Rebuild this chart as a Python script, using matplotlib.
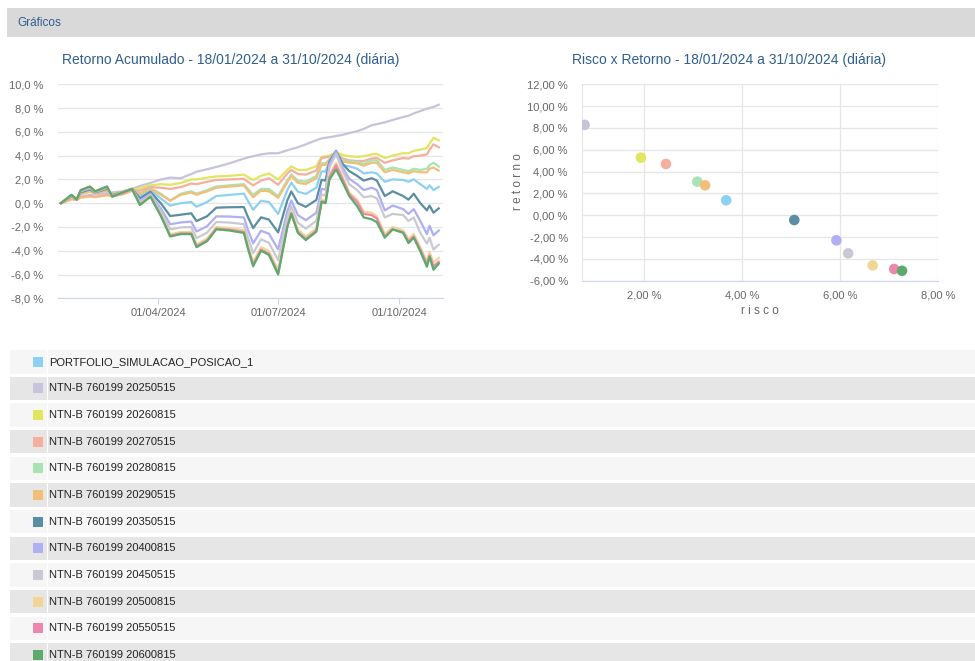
import numpy as np
import pandas as pd
import matplotlib
matplotlib.use('Agg')
import matplotlib.pyplot as plt
import matplotlib.dates as mdates
from matplotlib.patches import Rectangle

plt.rcParams['font.family'] = ['Liberation Sans', 'DejaVu Sans']

# dates (days where the curves turn)
dates = ['2024-01-18', '2024-01-26', '2024-01-30', '2024-02-02', '2024-02-09', '2024-02-13',
         '2024-02-22', '2024-02-26', '2024-03-05', '2024-03-12', '2024-03-18', '2024-03-26',
         '2024-04-03', '2024-04-10', '2024-04-18', '2024-04-26', '2024-04-30', '2024-05-08',
         '2024-05-15', '2024-05-25', '2024-06-05', '2024-06-08', '2024-06-12', '2024-06-18',
         '2024-06-24', '2024-07-01', '2024-07-08', '2024-07-11', '2024-07-16', '2024-07-22',
         '2024-07-30', '2024-08-03', '2024-08-06', '2024-08-09', '2024-08-14', '2024-08-19',
         '2024-08-24', '2024-08-30', '2024-09-04', '2024-09-10', '2024-09-14', '2024-09-20',
         '2024-09-26', '2024-10-04', '2024-10-08', '2024-10-12', '2024-10-17', '2024-10-22',
         '2024-10-24', '2024-10-27', '2024-10-31']

# cumulative return (%) per series
portfolio = [0, 0.56, 0.37, 0.83, 1.06, 0.88, 1.13, 0.72, 0.95, 1.2, 0.62, 1.1, 0.39, -0.2, 0.0, 0.1, -0.3,
             0.1, 0.6, 0.7, 0.8, 0.2, -0.55, 0.2, 0.1, -0.9, 1.11, 1.73, 0.97, 0.78, 1.31, 2.68, 2.65, 3.6,
             4.4, 3.2, 3.1, 2.9, 2.5, 2.6, 2.5, 1.8, 2.0, 1.95, 1.8, 2.0, 1.6, 1.2, 1.5, 1.1, 1.37]
ntnb_2025 = [0, 0.4, 0.45, 0.55, 0.7, 0.75, 0.85, 0.9, 1.0, 1.2, 1.45, 1.7, 2.0, 2.15, 2.1, 2.45, 2.65,
             2.85, 3.05, 3.35, 3.75, 3.85, 3.95, 4.1, 4.2, 4.2, 4.45, 4.55, 4.7, 4.95, 5.3, 5.45, 5.5, 5.55,
             5.65, 5.75, 5.9, 6.05, 6.25, 6.55, 6.65, 6.8, 7.0, 7.25, 7.35, 7.55, 7.75, 7.95, 8.0, 8.1, 8.28]
ntnb_2026 = [0, 0.3, 0.3, 0.45, 0.55, 0.5, 0.65, 0.6, 0.75, 1.05, 1.25, 1.5, 1.6, 1.55, 1.7, 2.0, 2.0,
             2.15, 2.25, 2.3, 2.4, 2.2, 1.95, 2.3, 2.5, 2.0, 2.8, 3.1, 2.8, 2.8, 3.1, 3.9, 3.95, 4.0,
             4.3, 4.05, 3.95, 3.9, 3.95, 4.1, 4.15, 3.8, 4.0, 4.2, 4.2, 4.4, 4.5, 4.65, 5.0, 5.5, 5.28]
ntnb_2027 = [0, 0.35, 0.3, 0.5, 0.6, 0.55, 0.7, 0.6, 0.75, 1.05, 1.05, 1.35, 1.3, 1.2, 1.35, 1.65, 1.6,
             1.8, 1.95, 2.0, 2.05, 1.8, 1.5, 1.9, 2.1, 1.55, 2.5, 2.8, 2.45, 2.4, 2.75, 3.8, 3.85, 3.9,
             4.2, 3.75, 3.6, 3.55, 3.55, 3.75, 3.8, 3.4, 3.6, 3.8, 3.75, 3.95, 4.0, 4.1, 4.5, 4.95, 4.70]
ntnb_2028 = [0, 0.52, 0.39, 0.76, 0.97, 0.85, 1.06, 0.76, 0.96, 1.2, 0.83, 1.25, 0.79, 0.22, 0.8, 1.0,
             0.8, 1.1, 1.4, 1.5, 1.6, 1.2, 0.7, 1.2, 1.2, 0.6, 1.93, 2.42, 1.89, 1.81, 2.3, 3.36, 3.35,
             3.7, 4.2, 3.6, 3.5, 3.5, 3.3, 3.6, 3.6, 2.8, 3.0, 2.8, 2.7, 2.9, 2.8, 2.9, 3.2, 3.4, 3.08]
ntnb_2029 = [0, 0.52, 0.39, 0.78, 0.99, 0.85, 1.08, 0.75, 0.96, 1.2, 0.79, 1.22, 0.71, 0.2, 0.7, 0.9,
             0.7, 1.0, 1.3, 1.4, 1.5, 1.05, 0.5, 1.05, 1.0, 0.45, 1.77, 2.29, 1.71, 1.61, 2.1, 3.23, 3.22,
             3.6, 4.1, 3.5, 3.4, 3.35, 3.15, 3.4, 3.4, 2.6, 2.8, 2.6, 2.5, 2.7, 2.6, 2.6, 2.9, 3.0, 2.74]
ntnb_2035 = [0, 0.6, 0.35, 0.91, 1.16, 0.91, 1.21, 0.67, 0.93, 1.2, 0.41, 0.95, -0.02, -1.08, -0.97, -0.85,
             -1.5, -1.1, -0.38, -0.34, -0.33, -1.15, -2.09, -1.19, -1.38, -2.46, 0.24, 0.99, 0.0, -0.31,
             0.27, 1.96, 1.91, 3.5, 4.4, 3.3, 2.7, 2.3, 1.9, 2.1, 1.9, 0.6, 1.0, 0.6, 0.3, 0.8, 0.0, -0.6,
             -0.2, -0.8, -0.44]
ntnb_2040 = [0, 0.64, 0.33, 0.99, 1.25, 0.95, 1.29, 0.62, 0.92, 1.2, 0.18, 0.79, -0.46, -1.77, -1.62, -1.55,
             -2.38, -1.94, -1.11, -1.12, -1.2, -2.21, -3.38, -2.32, -2.57, -3.88, -0.66, 0.23, -1.0, -1.43,
             -0.8, 1.21, 1.14, 3.3, 4.35, 3.0, 2.05, 1.6, 1.1, 1.3, 1.1, -0.6, -0.2, -0.5, -0.9, -0.5, -1.5,
             -2.6, -1.9, -2.7, -2.30]
ntnb_2045 = [0, 0.66, 0.32, 1.03, 1.32, 0.97, 1.33, 0.59, 0.91, 1.2, 0.04, 0.69, -0.73, -2.21, -2.04, -2.0,
             -2.94, -2.48, -1.58, -1.63, -1.76, -2.89, -4.2, -3.04, -3.33, -4.79, -1.23, -0.25, -1.64, -2.14,
             -1.48, 0.74, 0.65, 3.0, 4.1, 2.7, 1.6, 1.1, 0.5, 0.6, 0.4, -1.2, -0.9, -1.0, -1.5, -1.2, -2.5,
             -3.4, -2.9, -3.9, -3.49]
ntnb_2050 = [0, 0.69, 0.31, 1.08, 1.37, 0.99, 1.38, 0.56, 0.9, 1.2, -0.09, 0.59, -0.99, -2.62, -2.43, -2.41,
             -3.47, -2.98, -2.01, -2.09, -2.27, -3.52, -4.96, -3.7, -4.03, -5.62, -1.76, -0.7, -2.23, -2.8,
             -2.12, 0.3, 0.2, 2.4, 3.4, 2.2, 0.9, 0.3, -0.7, -0.8, -1.1, -2.6, -2.0, -2.3, -3.0, -2.6, -3.7,
             -4.9, -4.1, -5.0, -4.60]
ntnb_2055 = [0, 0.7, 0.3, 1.09, 1.39, 1.0, 1.39, 0.55, 0.9, 1.2, -0.13, 0.56, -1.06, -2.74, -2.54, -2.54,
             -3.62, -3.13, -2.14, -2.23, -2.43, -3.71, -5.19, -3.9, -4.25, -5.88, -1.92, -0.83, -2.41, -3.0,
             -2.31, 0.16, 0.07, 2.2, 3.2, 2.0, 0.75, 0.1, -0.9, -1.0, -1.3, -2.8, -2.2, -2.45, -3.2, -2.8,
             -3.9, -5.1, -4.4, -5.3, -4.93]
ntnb_2060 = [0.0, 0.7, 0.3, 1.1, 1.4, 1.0, 1.4, 0.55, 0.9, 1.2, -0.15, 0.55, -1.1, -2.8, -2.6, -2.6, -3.7,
             -3.2, -2.2, -2.3, -2.5, -3.8, -5.3, -4.0, -4.35, -6.0, -2.0, -0.9, -2.5, -3.1, -2.4, 0.1, 0.0,
             2.0, 2.85, 1.75, 0.6, -0.25, -1.2, -1.35, -1.6, -2.9, -2.2, -2.5, -3.35, -2.9, -4.05, -5.35,
             -4.5, -5.6, -5.09]

labels = ['PORTFOLIO_SIMULACAO_POSICAO_1', 'NTN-B 760199 20250515', 'NTN-B 760199 20260815',
          'NTN-B 760199 20270515', 'NTN-B 760199 20280815', 'NTN-B 760199 20290515',
          'NTN-B 760199 20350515', 'NTN-B 760199 20400815', 'NTN-B 760199 20450515',
          'NTN-B 760199 20500815', 'NTN-B 760199 20550515', 'NTN-B 760199 20600815']
colors = ['#8dd1f2', '#c6c3dc', '#e2e55e', '#f6ae9e', '#a9e2b3', '#f2bf78',
          '#5a8ea2', '#aeaff4', '#c9c9d4', '#f1d595', '#ef86ae', '#5cab6c']

# risco x retorno (%)
risco = [3.67, 0.78, 1.93, 2.44, 3.08, 3.24, 5.06, 5.92, 6.16, 6.66, 7.10, 7.26]
retorno = [1.37, 8.28, 5.28, 4.70, 3.08, 2.74, -0.44, -2.30, -3.49, -4.60, -4.93, -5.09]

series = [portfolio, ntnb_2025, ntnb_2026, ntnb_2027, ntnb_2028, ntnb_2029,
          ntnb_2035, ntnb_2040, ntnb_2045, ntnb_2050, ntnb_2055, ntnb_2060]

W, H = 975, 661


def fx(x):
    return x / W


def fy(y):
    return 1 - y / H


fig = plt.figure(figsize=(9.75, 6.61), dpi=100)

# header bar
fig.add_artist(Rectangle((fx(7), fy(37)), (975 - 7) / W, 29 / H, transform=fig.transFigure,
                         facecolor='#d9d9d9', edgecolor='none', zorder=0))
fig.text(fx(17), fy(22.5), 'Gráficos', color='#2f5f8f', fontsize=8.5, va='center')

title_color = '#2f5f8f'
tick_color = '#666666'
grid_color = '#e6e6e6'

# ---- retorno acumulado
ax1 = fig.add_axes([fx(58.3), fy(298.3), 384.4 / W, 214 / H])
x = pd.to_datetime(dates)
for vals, c in zip(series, colors):
    ax1.plot(x, vals, color=c, lw=1.6)

ax1.set_ylim(-8, 10)
yt = np.arange(-8, 11, 2)
ax1.set_yticks(yt)
ax1.set_yticklabels([f'{v:.1f} %'.replace('.', ',') for v in yt])
ax1.set_xlim(pd.Timestamp('2024-01-16'), pd.Timestamp('2024-11-03'))
ax1.set_xticks(pd.to_datetime(['2024-04-01', '2024-07-01', '2024-10-01']))
ax1.xaxis.set_major_formatter(mdates.DateFormatter('%d/%m/%Y'))
ax1.grid(axis='y', color=grid_color, lw=0.9)
ax1.set_axisbelow(True)
for s in ['top', 'left', 'right']:
    ax1.spines[s].set_visible(False)
ax1.spines['bottom'].set_color('#ccd6eb')
ax1.tick_params(axis='y', length=0, pad=11, labelsize=8, labelcolor=tick_color)
ax1.tick_params(axis='x', length=4, color='#ccd6eb', pad=3, labelsize=8, labelcolor=tick_color)
fig.text(fx(231), fy(60), 'Retorno Acumulado - 18/01/2024 a 31/10/2024 (diária)',
         color=title_color, fontsize=10, ha='center', va='center')

# ---- risco x retorno
ax2 = fig.add_axes([fx(581.7), fy(280.7), 356.6 / W, 196.4 / H])
for r, ret, c in zip(risco, retorno, colors):
    ax2.scatter(r, ret, s=58, color=c, edgecolors='none', zorder=3)
ax2.set_xlim(0.72, 8.0)
ax2.set_ylim(-6, 12)
yt2 = np.arange(-6, 13, 2)
ax2.set_yticks(yt2)
ax2.set_yticklabels([f'{v:.2f} %'.replace('.', ',') for v in yt2])
xt2 = [2, 4, 6, 8]
ax2.set_xticks(xt2)
ax2.set_xticklabels([f'{v:.2f} %'.replace('.', ',') for v in xt2])
ax2.grid(True, color=grid_color, lw=0.9)
ax2.set_axisbelow(True)
for s in ['top', 'right']:
    ax2.spines[s].set_visible(False)
ax2.spines['left'].set_color(grid_color)
ax2.spines['bottom'].set_color('#ccd6eb')
ax2.tick_params(length=0, labelsize=8, labelcolor=tick_color)
ax2.tick_params(axis='y', pad=10)
ax2.tick_params(axis='x', pad=7)
fig.text(fx(518), fy(182), 'r e t o r n o', rotation=90, color=tick_color, fontsize=8.5,
         ha='center', va='center')
fig.text(fx(760), fy(311), 'r i s c o', color=tick_color, fontsize=8.5, ha='center', va='center')
fig.text(fx(729), fy(60), 'Risco x Retorno - 18/01/2024 a 31/10/2024 (diária)',
         color=title_color, fontsize=10, ha='center', va='center')

# ---- legend table
row_top = 350
row_step = 26.65
row_h = 23.5
for i, (lab, c) in enumerate(zip(labels, colors)):
    top = row_top + i * row_step
    bg = '#f6f6f6' if i % 2 == 0 else '#e6e6e6'
    fig.add_artist(Rectangle((fx(10), fy(top + row_h)), 36.5 / W, row_h / H, transform=fig.transFigure,
                             facecolor=bg, edgecolor='none'))
    fig.add_artist(Rectangle((fx(48), fy(top + row_h)), (975 - 48) / W, row_h / H,
                             transform=fig.transFigure, facecolor=bg, edgecolor='none'))
    cy = top + row_h / 2
    fig.add_artist(Rectangle((fx(33), fy(cy + 5)), 10 / W, 10 / H, transform=fig.transFigure,
                             facecolor=c, edgecolor='none'))
    fig.text(fx(49), fy(cy), lab, color='#222222', fontsize=8, va='center')

fig.savefig('out.png', dpi=100)
